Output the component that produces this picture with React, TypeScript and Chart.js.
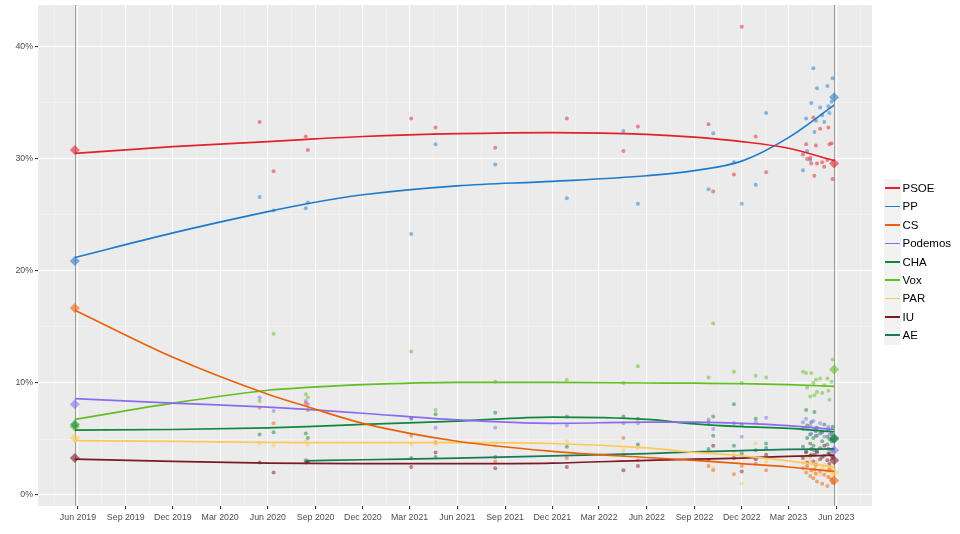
import { useEffect, useRef } from "react"
import { Chart, registerables } from "chart.js"

Chart.register(...registerables)

// Parties, in legend order
const parties = ["PSOE", "PP", "CS", "Podemos", "CHA", "Vox", "PAR", "IU", "AE"]
const partyColors = ["#E3202B", "#1F7BC9", "#EB6109", "#8A6BF0", "#10873B", "#63BE21", "#FFC85A", "#7B1A25", "#167A56"]

// x axis (quarterly labels) and y axis ticks
const tickLabels = [
  "Jun 2019", "Sep 2019", "Dec 2019", "Mar 2020", "Jun 2020", "Sep 2020", "Dec 2020", "Mar 2021", "Jun 2021",
  "Sep 2021", "Dec 2021", "Mar 2022", "Jun 2022", "Sep 2022", "Dec 2022", "Mar 2023", "Jun 2023",
]
const yTickValues = [0, 10, 20, 30, 40]
const xRange = ["2019-03-16", "2023-08-09"]
const yRange = [-0.98, 43.74]

// Election results (diamonds)
const electionDates = ["2019-05-26", "2023-05-28"]
const election2019 = [30.8, 20.9, 16.7, 8.1, 6.3, 6.1, 5.1, 3.3, null]
const election2023 = [29.6, 35.5, 1.3, 4.0, 5.1, 11.2, 2.0, 3.1, 5.0]

// Opinion polls (dots)
const pollDates = [
  "2020-05-16", "2020-06-12", "2020-08-13", "2020-08-17", "2021-03-04", "2021-04-20", "2021-08-13", "2021-12-29",
  "2022-04-17", "2022-05-15", "2022-09-28", "2022-10-07", "2022-11-16", "2022-12-01", "2022-12-28", "2023-01-17",
  "2023-03-29", "2023-04-04", "2023-04-06", "2023-04-12", "2023-04-14", "2023-04-18", "2023-04-20", "2023-04-23",
  "2023-04-25", "2023-05-01", "2023-05-05", "2023-05-09", "2023-05-15", "2023-05-17", "2023-05-19", "2023-05-23",
  "2023-05-25",
]
const pollPSOE = [33.3, 28.9, 32.0, 30.8, 33.6, 32.8, 31.0, 33.6, 30.7, 32.9, 33.1, 27.1, 28.6, 41.8, 32.0, 28.8,
  30.4, 31.3, 30.0, 30.1, 29.6, 33.7, 28.5, 31.2, 29.6, 32.7, 29.7, 29.3, 29.9, 32.8, 31.3, 31.4, 28.2]
const pollPP = [26.6, 25.4, 25.6, 26.1, 23.3, 31.3, 29.5, 26.5, 32.5, 26.0, 27.3, 32.3, 29.7, 26.0, 27.7, 34.1,
  29.0, 33.6, 30.7, 29.9, 35.0, 38.1, 32.4, 33.4, 36.3, 34.6, 33.9, 33.3, 36.5, 34.7, 34.1, 35.1, 37.2]
const pollCS = [7.8, 6.4, 8.2, 7.6, 5.3, 4.7, 3.0, 3.3, 5.1, 3.1, 2.6, 2.2, 1.85, 2.6, 2.8, 2.2,
  2.4, 2.0, 2.6, 1.7, 2.2, 1.5, 2.3, 1.9, 1.2, 2.1, 1.0, 1.8, 0.8, 1.6, 2.3, 1.4, 1.1]
const pollPodemos = [8.7, 7.5, 8.4, 8.1, 6.9, 6.0, 6.0, 6.2, 6.4, 6.4, 6.75, 5.9, 6.4, 5.2, 6.5, 6.9,
  6.5, 6.8, 5.9, 6.2, 5.5, 6.6, 5.8, 6.0, 5.3, 6.4, 5.7, 5.2, 5.9, 6.1, 5.4, 5.6, 4.9]
const pollCHA = [5.4, 5.6, 5.5, 5.1, 6.8, 7.2, 7.35, 7.0, 7.0, 6.8, 6.5, 7.0, 8.1, 6.3, 6.8, 4.6,
  5.9, 7.6, 6.2, 5.4, 6.5, 5.1, 7.4, 5.7, 6.0, 5.5, 4.8, 6.3, 5.2, 5.8, 5.0, 5.4, 6.1]
const pollVox = [8.4, 14.4, 9.0, 8.7, 12.8, 7.6, 10.1, 10.3, 10.0, 11.5, 10.5, 15.3, 11.0, 10.0, 10.65, 10.5,
  11.0, 10.9, 9.6, 8.8, 10.9, 10.0, 8.9, 10.3, 9.2, 10.4, 9.1, 9.8, 10.4, 9.3, 8.5, 10.1, 12.1]
const pollPAR = [4.6, 4.4, 4.8, 4.5, 4.5, 4.5, 4.4, 4.8, 4.0, 4.2, 3.8, 2.4, 3.8, 1.0, 4.6, 3.0,
  2.9, 3.4, 2.5, 3.1, 2.2, 2.8, 2.0, 2.6, 3.0, 1.8, 2.4, 2.7, 2.1, 2.3, 1.6, 2.5, 2.2]
const pollIU = [2.9, 2.0, 2.9, 3.0, 2.5, 3.8, 2.4, 2.5, 2.2, 2.6, 3.1, 4.4, 3.3, 2.1, 3.2, 3.6,
  3.3, 3.8, 2.9, 3.5, 4.1, 3.0, 3.6, 2.7, 3.9, 3.2, 3.4, 4.4, 3.1, 3.7, 2.8, 3.5, 3.3]
const pollAE = [null, null, 3.1, 3.0, 3.3, 3.4, 3.4, 4.3, 3.6, 4.5, 4.1, 5.3, 4.4, 3.7, 4.0, 4.2,
  4.3, 3.9, 5.1, 4.6, 3.6, 4.4, 4.0, 5.3, 3.8, 4.2, 5.6, 3.5, 4.5, 4.1, 3.7, 4.8, 4.0]

// Smoothed trend lines
const trendDates = [
  "2019-05-26", "2019-12-01", "2020-06-01", "2020-08-15", "2020-12-01", "2021-06-01",
  "2021-12-01", "2022-06-01", "2022-09-01", "2022-12-01", "2023-03-01", "2023-05-28",
]
const trendPSOE = [30.5, 31.1, 31.55, 31.75, 32.0, 32.25, 32.35, 32.2, 31.95, 31.55, 30.95, 29.85]
const trendPP = [21.2, 23.4, 25.3, 26.0, 26.8, 27.6, 28.0, 28.5, 28.95, 29.8, 31.9, 34.8]
const trendCS = [16.5, 12.3, 9.0, 7.9, 6.4, 4.8, 3.9, 3.35, 3.1, 2.8, 2.5, 2.1]
const trendPodemos = [8.6, 8.2, 7.85, 7.65, 7.3, 6.7, 6.4, 6.5, 6.5, 6.4, 6.2, 5.85]
const trendCHA = [5.8, 5.85, 6.0, 6.1, 6.3, 6.6, 6.95, 6.75, 6.35, 6.1, 5.95, 5.65]
const trendVox = [6.75, 8.2, 9.35, 9.6, 9.85, 10.05, 10.05, 10.0, 9.98, 9.95, 9.85, 9.7]
const trendPAR = [4.85, 4.78, 4.7, 4.68, 4.67, 4.67, 4.6, 4.2, 3.8, 3.5, 3.05, 2.5]
const trendIU = [3.2, 3.0, 2.85, 2.82, 2.8, 2.8, 2.85, 3.1, 3.2, 3.3, 3.45, 3.55]
const trendAE = [null, null, null, 3.05, 3.15, 3.3, 3.5, 3.7, 3.85, 3.97, 4.07, 4.12]

const pollSeries = [pollPSOE, pollPP, pollCS, pollPodemos, pollCHA, pollVox, pollPAR, pollIU, pollAE]
const trendSeries = [trendPSOE, trendPP, trendCS, trendPodemos, trendCHA, trendVox, trendPAR, trendIU, trendAE]

const monthNames = ["Jan", "Feb", "Mar", "Apr", "May", "Jun", "Jul", "Aug", "Sep", "Oct", "Nov", "Dec"]
const FONT = "'Liberation Sans', Arial, sans-serif"

const toDay = (s: string) => {
  const [y, m, d] = s.split("-").map(Number)
  return Date.UTC(y, m - 1, d) / 86400000
}
const labelDay = (label: string) => {
  const [mon, yr] = label.split(" ")
  return Date.UTC(Number(yr), monthNames.indexOf(mon), 1) / 86400000
}
const rgba = (hex: string, a: number) => {
  const n = parseInt(hex.slice(1), 16)
  return `rgba(${(n >> 16) & 255}, ${(n >> 8) & 255}, ${n & 255}, ${a})`
}

export default function App() {
  const canvasRef = useRef<HTMLCanvasElement>(null)
  const chartRef = useRef<Chart | null>(null)

  useEffect(() => {
    if (!canvasRef.current) return
    if (chartRef.current) chartRef.current.destroy()

    // major ticks with labels, minor ticks halfway in between (ggplot style)
    const majorX = tickLabels.map(labelDay)
    const minorX: number[] = [majorX[0] - (majorX[1] - majorX[0]) / 2]
    for (let i = 0; i < majorX.length - 1; i++) minorX.push((majorX[i] + majorX[i + 1]) / 2)
    minorX.push(majorX[majorX.length - 1] + (majorX[1] - majorX[0]) / 2)
    const xTicks = [...majorX, ...minorX].sort((a, b) => a - b)
    const minorY = yTickValues.slice(0, -1).map((v, i) => (v + yTickValues[i + 1]) / 2)
    const yTicks = [...yTickValues, ...minorY].sort((a, b) => a - b)
    const isMajorX = (v: number) => majorX.includes(v)
    const isMajorY = (v: number) => yTickValues.includes(v)

    const datasets: any[] = []
    parties.forEach((party, i) => {
      const color = partyColors[i]
      datasets.push({
        type: "line",
        label: party,
        data: trendDates.map((d, k) => ({ x: toDay(d), y: trendSeries[i][k] })),
        borderColor: color,
        borderWidth: 1.7,
        pointRadius: 0,
        fill: false,
        spanGaps: false,
        cubicInterpolationMode: "monotone",
        order: 1,
      })
      datasets.push({
        type: "scatter",
        label: party + " results",
        data: electionDates
          .map((d, k) => ({ x: toDay(d), y: (k === 0 ? election2019 : election2023)[i] }))
          .filter((p) => p.y !== null),
        pointStyle: "rectRot",
        pointRadius: 5,
        backgroundColor: rgba(color, 0.6),
        borderWidth: 0,
        order: 2,
      })
      datasets.push({
        type: "scatter",
        label: party + " polls",
        data: pollDates
          .map((d, k) => ({ x: toDay(d), y: pollSeries[i][k] }))
          .filter((p) => p.y !== null),
        pointRadius: 2,
        backgroundColor: rgba(color, 0.5),
        borderWidth: 0,
        order: 3,
      })
    })

    const panelPlugin = {
      id: "panel",
      beforeDraw: (chart: Chart) => {
        const { ctx, chartArea } = chart
        ctx.save()
        ctx.fillStyle = "#FFFFFF"
        ctx.fillRect(0, 0, chart.width, chart.height)
        ctx.fillStyle = "#EBEBEB"
        ctx.fillRect(chartArea.left, chartArea.top, chartArea.right - chartArea.left, chartArea.bottom - chartArea.top)
        ctx.restore()
      },
      beforeDatasetsDraw: (chart: Chart) => {
        const { ctx, chartArea } = chart
        const xs = chart.scales.x
        ctx.save()
        ctx.strokeStyle = "#9E9E9E"
        ctx.lineWidth = 1
        electionDates.forEach((d) => {
          const px = Math.round(xs.getPixelForValue(toDay(d))) + 0.5
          ctx.beginPath()
          ctx.moveTo(px, chartArea.top)
          ctx.lineTo(px, chartArea.bottom)
          ctx.stroke()
        })
        ctx.restore()
      },
    }

    chartRef.current = new Chart(canvasRef.current, {
      type: "scatter",
      data: { datasets },
      options: {
        animation: false,
        responsive: true,
        maintainAspectRatio: false,
        events: [],
        layout: { padding: { top: 4, right: 88, left: 0, bottom: 0 } },
        plugins: { legend: { display: false }, tooltip: { enabled: false } },
        scales: {
          x: {
            type: "linear",
            min: toDay(xRange[0]),
            max: toDay(xRange[1]),
            afterBuildTicks: (scale: any) => {
              scale.ticks = xTicks.map((value) => ({ value }))
            },
            afterFit: (scale: any) => {
              scale.height = 28
              scale.paddingLeft = 0
              scale.paddingRight = 0
            },
            ticks: {
              autoSkip: false,
              maxRotation: 0,
              minRotation: 0,
              padding: 3,
              color: "#4D4D4D",
              font: { family: FONT, size: 8.8 },
              callback: (value: any) => {
                const idx = majorX.indexOf(Number(value))
                return idx >= 0 ? tickLabels[idx] : ""
              },
            },
            grid: {
              color: (c: any) => (c.tick && isMajorX(c.tick.value) ? "#FFFFFF" : "rgba(255,255,255,0.55)"),
              lineWidth: (c: any) => (c.tick && isMajorX(c.tick.value) ? 1.1 : 0.6),
              tickLength: 3,
              tickColor: (c: any) => (c.tick && isMajorX(c.tick.value) ? "#333333" : "rgba(0,0,0,0)"),
            },
            border: { display: false },
          },
          y: {
            type: "linear",
            min: yRange[0],
            max: yRange[1],
            afterBuildTicks: (scale: any) => {
              scale.ticks = yTicks.map((value) => ({ value }))
            },
            afterFit: (scale: any) => {
              scale.width = 38
              scale.paddingTop = 0
              scale.paddingBottom = 0
            },
            ticks: {
              autoSkip: false,
              padding: 2,
              color: "#4D4D4D",
              font: { family: FONT, size: 8.8 },
              callback: (value: any) => (isMajorY(Number(value)) ? `${value}%` : ""),
            },
            grid: {
              color: (c: any) => (c.tick && isMajorY(c.tick.value) ? "#FFFFFF" : "rgba(255,255,255,0.55)"),
              lineWidth: (c: any) => (c.tick && isMajorY(c.tick.value) ? 1.1 : 0.6),
              tickLength: 3,
              tickColor: (c: any) => (c.tick && isMajorY(c.tick.value) ? "#333333" : "rgba(0,0,0,0)"),
            },
            border: { display: false },
          },
        },
      },
      plugins: [panelPlugin],
    } as any)

    return () => {
      if (chartRef.current) {
        chartRef.current.destroy()
        chartRef.current = null
      }
    }
  }, [])

  return (
    <div style={{ position: "absolute", left: 0, top: 0, width: 960, height: 534, background: "#FFFFFF" }}>
      <canvas ref={canvasRef}></canvas>
      <div style={{ position: "absolute", left: 884, top: 179, fontFamily: FONT }}>
        {parties.map((party, i) => (
          <div key={party} style={{ display: "flex", alignItems: "center", height: 18.4 }}>
            <div
              style={{
                width: 17,
                height: 18.4,
                background: "#F2F2F2",
                display: "flex",
                alignItems: "center",
                justifyContent: "center",
              }}
            >
              <div style={{ width: 15, height: 1.7, background: partyColors[i] }} />
            </div>
            <span style={{ marginLeft: 1.5, fontSize: 11.5, color: "#000000", lineHeight: "18.4px" }}>{party}</span>
          </div>
        ))}
      </div>
    </div>
  )
}
